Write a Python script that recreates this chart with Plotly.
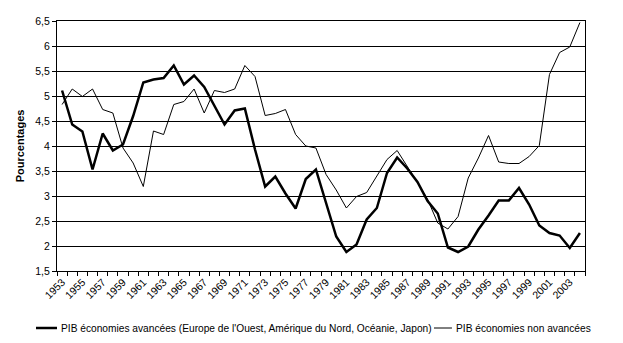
import plotly.graph_objects as go

# Années couvertes par les deux séries
annees = list(range(1953, 2005))

# Croissance du PIB, en pourcentage (moyennes lissées)
pib_avancees = [
    5.11, 4.43, 4.29, 3.53, 4.25, 3.91, 4.03, 4.60, 5.27, 5.33,
    5.36, 5.61, 5.23, 5.41, 5.18, 4.80, 4.43, 4.71, 4.75, 3.93,
    3.19, 3.39, 3.05, 2.75, 3.34, 3.53, 2.86, 2.19, 1.88, 2.03,
    2.53, 2.76, 3.46, 3.77, 3.55, 3.28, 2.90, 2.65, 1.97, 1.88,
    1.99, 2.33, 2.61, 2.91, 2.91, 3.16, 2.83, 2.41, 2.26, 2.21,
    1.96, 2.26,
]
pib_non_avancees = [
    4.83, 5.14, 4.99, 5.14, 4.73, 4.66, 3.96, 3.66, 3.19, 4.30,
    4.23, 4.83, 4.89, 5.14, 4.66, 5.11, 5.07, 5.14, 5.61, 5.39,
    4.61, 4.65, 4.73, 4.23, 4.00, 3.96, 3.43, 3.12, 2.76, 2.99,
    3.07, 3.39, 3.73, 3.91, 3.60, 3.27, 2.93, 2.46, 2.34, 2.59,
    3.36, 3.76, 4.21, 3.68, 3.65, 3.65, 3.79, 4.01, 5.43, 5.87,
    5.98, 6.47,
]

# Étiquettes de l'axe horizontal : une année sur deux
annees_etiquetees = list(range(1953, 2004, 2))

series = [
    ("PIB économies avancées (Europe de l'Ouest, Amérique du Nord, Océanie, Japon)",
     pib_avancees, 2.5),
    ("PIB économies non avancées", pib_non_avancees, 1),
]

police = "Liberation Sans, Arial, sans-serif"
taille = 10.5

fig = go.Figure()
for nom, valeurs, epaisseur in series:
    fig.add_trace(go.Scatter(
        x=annees, y=valeurs, mode="lines", name=nom,
        line=dict(color="black", width=epaisseur),
    ))

# Légende sur une seule ligne sous le graphique (échantillon de trait + libellé)
legende_y = -0.228
legende_pos = [(-0.0398, 0.0, 0.0038), (0.714, 0.748, 0.752)]
for (nom, _, epaisseur), (x0, x1, xt) in zip(series, legende_pos):
    fig.add_shape(type="line", xref="paper", yref="paper",
                  x0=x0, x1=x1, y0=legende_y, y1=legende_y,
                  line=dict(color="black", width=epaisseur))
    fig.add_annotation(text=nom, xref="paper", yref="paper",
                       x=xt, y=legende_y, xanchor="left",
                       yanchor="middle", showarrow=False,
                       font=dict(size=10.2, color="black"))

fig.update_layout(
    width=623, height=343,
    margin=dict(l=57, r=38, t=21, b=72),
    paper_bgcolor="white", plot_bgcolor="white",
    separators=", ",
    font=dict(family=police, size=taille, color="black"),
    showlegend=False,
)

fig.update_xaxes(
    range=[1952.5, 2004.5],
    tickmode="array", tickvals=annees_etiquetees,
    ticktext=[str(a) for a in annees_etiquetees],
    tickangle=-45, ticks="", ticklen=0,
    minor=dict(ticks="outside", ticklen=4, tickcolor="black",
               tick0=1952.5, dtick=1, showgrid=False),
    showline=True, linecolor="black", linewidth=1, mirror=True,
    showgrid=False, zeroline=False, automargin=False,
)
fig.update_yaxes(
    range=[1.5, 6.5], dtick=0.5, tick0=1.5,
    ticks="outside", ticklen=4, tickcolor="black",
    showgrid=True, gridcolor="black", gridwidth=1,
    showline=True, linecolor="black", linewidth=1, mirror=True,
    zeroline=False, automargin=False,
    title=dict(text="<b>Pourcentages</b>", font=dict(size=11), standoff=8),
)

fig.write_html("out.html")
